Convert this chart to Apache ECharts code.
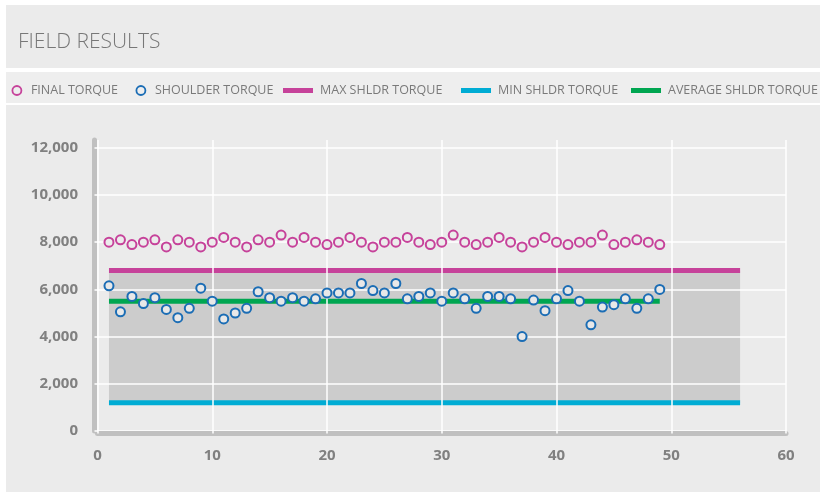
<!DOCTYPE html>
<html>
<head>
<meta charset="utf-8">
<script src="https://cdn.jsdelivr.net/npm/echarts@6/dist/echarts.min.js"></script>
<style>
html,body{margin:0;padding:0;background:#ffffff;width:820px;height:492px;overflow:hidden;}
.pn{position:absolute;}
#chart{position:absolute;left:0;top:0;width:820px;height:492px;}
</style>
</head>
<body>
<div class="pn" style="left:6px;top:5px;width:814px;height:63px;background:#ebebeb;"></div>
<div class="pn" style="left:6px;top:72px;width:814px;height:31px;background:#eeeeee;"></div>
<div class="pn" style="left:6px;top:105px;width:814px;height:387px;background:#ebebeb;"></div>
<div id="chart"></div>
<script>
const runs = [1,2,3,4,5,6,7,8,9,10,11,12,13,14,15,16,17,18,19,20,21,22,23,24,25,26,27,28,29,30,31,32,33,34,35,36,37,38,39,40,41,42,43,44,45,46,47,48,49];
const finalTorque = [8000,8100,7900,8000,8100,7800,8100,8000,7800,8000,8200,8000,7800,8100,8000,8300,
  8000,8200,8000,7900,8000,8200,8000,7800,8000,8000,8200,8000,7900,8000,8300,8000,
  7900,8000,8200,8000,7800,8000,8200,8000,7900,8000,8000,8300,7900,8000,8100,8000,7900];
const shoulderTorque = [6150,5050,5700,5400,5650,5150,4800,5200,6050,5500,4750,5000,5200,5900,5650,5500,
  5650,5500,5600,5850,5850,5850,6250,5950,5850,6250,5600,5700,5850,5500,5850,5600,
  5200,5700,5700,5600,4000,5550,5100,5600,5950,5500,4500,5250,5350,5600,5200,5600,6000];
const maxShldr = 6800;
const minShldr = 1200;
const avgShldr = 5500;
const limitRuns = [1, 56];
const avgRuns = [1, 49];
const xTicks = [0,10,20,30,40,50,60];
const yTicks = [0,2000,4000,6000,8000,10000,12000];

const C = {final:'#c6429a', shoulder:'#1b6db5', max:'#c6429a', min:'#00acd4', avg:'#00a651'};
const chart = echarts.init(document.getElementById('chart'), null, {renderer:'canvas'});
const legFont = {fontFamily:'"Open Sans",sans-serif', fontSize:12.5, color:'#7a7a7a'};
function circLeg(left, name, color){
  return {left:left, top:84, padding:0, itemWidth:18, itemHeight:9, textStyle:legFont, selectedMode:false,
    data:[{name:name, icon:'circle', itemStyle:{color:'transparent', borderColor:color, borderWidth:1.8}}]};
}
function lineLeg(left, name, color){
  return {left:left, top:84, padding:0, itemWidth:30, itemHeight:5, textStyle:Object.assign({padding:[0,0,0,2]}, legFont), selectedMode:false,
    data:[{name:name, icon:'rect', itemStyle:{color:color}}]};
}
const option = {
  animation:false,
  title:{text:'FIELD RESULTS', left:18, top:32, padding:0,
    textStyle:{fontFamily:'"Open Sans",sans-serif', fontWeight:300, fontSize:21, color:'#777777'}},
  legend:[
    circLeg(11.5, 'FINAL TORQUE', C.final),
    circLeg(135.5, 'SHOULDER TORQUE', C.shoulder),
    lineLeg(283, 'MAX SHLDR TORQUE', C.max),
    lineLeg(461, 'MIN SHLDR TORQUE', C.min),
    lineLeg(631, 'AVERAGE SHLDR TORQUE', C.avg)
  ],
  grid:{left:97.5, right:34, top:140, bottom:61, containLabel:false},
  xAxis:{type:'value', min:0, max:60, interval:10, z:3, offset:2.5,
    axisLine:{show:true, onZero:false, lineStyle:{color:'#c0c0c0', width:5}},
    axisTick:{show:true, inside:true, length:3, customValues:xTicks, lineStyle:{color:'#ffffff', width:1.5}},
    axisLabel:{margin:15, customValues:xTicks, fontFamily:'"Open Sans",sans-serif', fontWeight:'bold', fontSize:15, color:'#808080'},
    splitLine:{show:true, lineStyle:{color:'#ffffff', width:1.5}}},
  yAxis:{type:'value', min:0, max:12330, interval:2000, z:3, offset:3,
    axisLine:{show:true, onZero:false, lineStyle:{color:'#c0c0c0', width:5}},
    axisTick:{show:true, inside:true, length:4, customValues:yTicks, lineStyle:{color:'#ffffff', width:1.5}},
    axisLabel:{margin:16.5, customValues:yTicks, fontFamily:'"Open Sans",sans-serif', fontWeight:'bold', fontSize:15, color:'#808080',
      formatter:function(v){return v.toLocaleString('en-US');}},
    splitLine:{show:true, lineStyle:{color:'#ffffff', width:1.5}}},
  series:[
    {name:'band', type:'line', z:1, data:[], silent:true,
      markArea:{silent:true, itemStyle:{color:'#cccccc'},
        data:[[{xAxis:limitRuns[0], yAxis:minShldr},{xAxis:limitRuns[1], yAxis:maxShldr}]]}},
    {name:'MAX SHLDR TORQUE', type:'line', z:1, symbol:'none', itemStyle:{color:C.max},
      lineStyle:{color:C.max, width:5, cap:'butt'}, data:limitRuns.map(r=>[r, maxShldr])},
    {name:'MIN SHLDR TORQUE', type:'line', z:1, symbol:'none', itemStyle:{color:C.min},
      lineStyle:{color:C.min, width:5, cap:'butt'}, data:limitRuns.map(r=>[r, minShldr])},
    {name:'AVERAGE SHLDR TORQUE', type:'line', z:1, symbol:'none', itemStyle:{color:C.avg},
      lineStyle:{color:C.avg, width:5, cap:'butt'}, data:avgRuns.map(r=>[r, avgShldr])},
    {name:'FINAL TORQUE', type:'scatter', z:5, symbol:'circle', symbolSize:9,
      itemStyle:{color:'#ececec', borderColor:C.final, borderWidth:2, opacity:1},
      data:runs.map((r,i)=>[r, finalTorque[i]])},
    {name:'SHOULDER TORQUE', type:'scatter', z:5, symbol:'circle', symbolSize:9,
      itemStyle:{color:'#e8e8e8', borderColor:C.shoulder, borderWidth:2, opacity:1},
      data:runs.map((r,i)=>[r, shoulderTorque[i]])}
  ]
};
chart.setOption(option);
</script>
</body>
</html>
